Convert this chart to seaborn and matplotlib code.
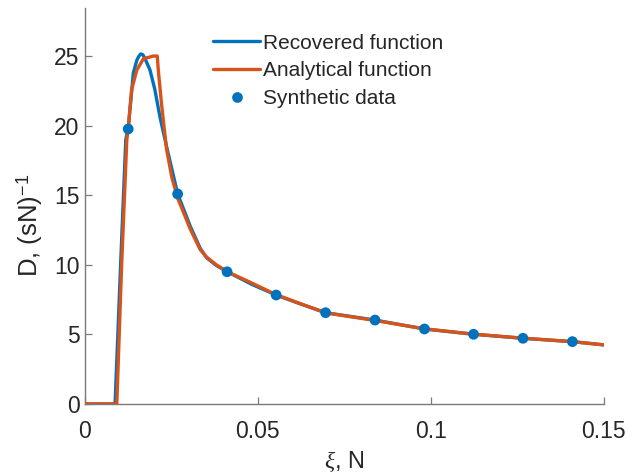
import matplotlib
matplotlib.use("Agg")
import matplotlib.pyplot as plt
import seaborn as sns
import pandas as pd
from matplotlib.lines import Line2D

# ---- data ----
xi_recovered = [0.0, 0.0087, 0.0103, 0.0118, 0.0125, 0.0140, 0.0150, 0.0155, 0.0161,
                0.0167, 0.0172, 0.0188, 0.0202, 0.0217, 0.0236, 0.0268, 0.0304, 0.0333,
                0.0352, 0.0380, 0.0412, 0.0482, 0.0553, 0.0622, 0.0696, 0.0839, 0.0982,
                0.1124, 0.1267, 0.1410, 0.1500]
D_recovered = [0.0, 0.0, 10.0, 19.0, 19.8, 23.8, 24.7, 24.95, 25.15,
               25.1, 24.9, 24.0, 22.6, 20.6, 18.5, 15.1, 12.8, 11.2,
               10.5, 9.95, 9.5, 8.6, 7.83, 7.2, 6.56, 6.03, 5.39,
               5.01, 4.72, 4.48, 4.25]

xi_analytical = [0.0, 0.0092, 0.0106, 0.0121, 0.0125, 0.0135, 0.0150, 0.0169, 0.0198,
                 0.0209, 0.0212, 0.0222, 0.0236, 0.0251, 0.0268, 0.0304, 0.0333, 0.0352,
                 0.0380, 0.0412, 0.0482, 0.0553, 0.0622, 0.0696, 0.0839, 0.0982, 0.1124,
                 0.1267, 0.1410, 0.1500]
D_analytical = [0.0, 0.0, 10.0, 19.0, 19.8, 22.6, 24.0, 24.8, 25.0,
                25.0, 24.0, 21.4, 18.3, 16.3, 14.8, 12.6, 11.1, 10.55,
                10.0, 9.5, 8.7, 7.85, 7.22, 6.55, 6.0, 5.4, 5.02,
                4.73, 4.48, 4.25]

xi_data = [0.0125, 0.0268, 0.0411, 0.0553, 0.0696, 0.0839, 0.0982, 0.1124, 0.1267, 0.1410]
D_data = [19.76, 15.09, 9.50, 7.83, 6.56, 6.03, 5.39, 5.01, 4.72, 4.48]

x_ticks = [0, 0.05, 0.1, 0.15]
x_ticklabels = ["0", "0.05", "0.1", "0.15"]
y_ticks = [0, 5, 10, 15, 20, 25]

labels = ["Recovered function", "Analytical function", "Synthetic data"]

# ---- style ----
sns.set_theme(style="white")
plt.rcParams["font.family"] = ["Liberation Sans", "DejaVu Sans"]
plt.rcParams["mathtext.fontset"] = "custom"
plt.rcParams["mathtext.rm"] = "Liberation Sans"
plt.rcParams["mathtext.it"] = "Liberation Serif:italic"
plt.rcParams["mathtext.bf"] = "Liberation Sans:bold"

BLUE = "#0072BD"
ORANGE = "#D95319"
AXC = "#262626"
SPC = "#7a7a7a"

df_rec = pd.DataFrame({"xi": xi_recovered, "D": D_recovered})
df_ana = pd.DataFrame({"xi": xi_analytical, "D": D_analytical})
df_dat = pd.DataFrame({"xi": xi_data, "D": D_data})

fig = plt.figure(figsize=(6.26, 4.76), dpi=100)
ax = fig.add_axes([85 / 626, 1 - 404 / 476, (603.5 - 85) / 626, (404 - 8) / 476])

sns.lineplot(data=df_rec, x="xi", y="D", ax=ax, color=BLUE, lw=2.4,
             estimator=None, sort=False, zorder=2)
sns.lineplot(data=df_ana, x="xi", y="D", ax=ax, color=ORANGE, lw=2.4,
             estimator=None, sort=False, zorder=3)
sns.scatterplot(data=df_dat, x="xi", y="D", ax=ax, color=BLUE, s=60,
                edgecolor="none", zorder=4)

ax.set_xlim(0, 0.15)
ax.set_ylim(0, 28.45)
ax.set_xticks(x_ticks)
ax.set_xticklabels(x_ticklabels)
ax.set_yticks(y_ticks)

for s in ["top", "right"]:
    ax.spines[s].set_visible(False)
for s in ["left", "bottom"]:
    ax.spines[s].set_color(SPC)
    ax.spines[s].set_linewidth(1.0)

ax.tick_params(axis="both", direction="in", length=5, width=0.9, color=SPC,
               labelsize=16.5, labelcolor=AXC, bottom=True, left=True)
ax.tick_params(axis="x", pad=11.5)
ax.tick_params(axis="y", pad=4)

ax.set_xlabel(r"$\xi$, N", fontsize=17, color=AXC)
ax.set_ylabel(r"D, (sN)$^{-1}$", fontsize=18.5, color=AXC)
ax.xaxis.set_label_coords(0.5, -0.115)
ax.yaxis.set_label_coords(-0.077, 0.45)

handles = [
    Line2D([], [], color=BLUE, lw=2.4),
    Line2D([], [], color=ORANGE, lw=2.4),
    Line2D([], [], color=BLUE, lw=0, marker="o", markersize=7.7, markeredgewidth=0),
]
leg = ax.legend(handles, labels, loc="upper left", bbox_to_anchor=(0.247, 0.935),
                frameon=False, fontsize=15, handlelength=2.25, handletextpad=0.15,
                labelspacing=0.42, borderpad=0, borderaxespad=0)
for t in leg.get_texts():
    t.set_color(AXC)

fig.savefig("out.png", dpi=100)
